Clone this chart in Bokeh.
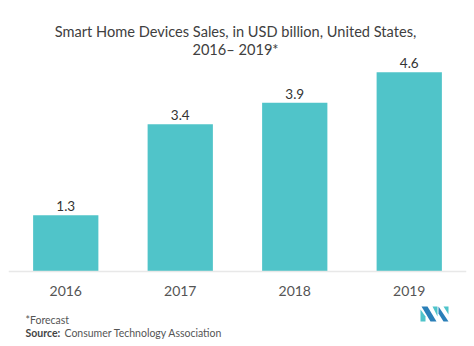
from bokeh.plotting import figure
from bokeh.models import ColumnDataSource, Label, Range1d, FactorRange, Span, PolyAnnotation
from bokeh.core.properties import value
from bokeh.embed import file_html
from bokeh.resources import INLINE

years = ["2016", "2017", "2018", "2019"]
sales = [1.3, 3.4, 3.9, 4.6]
value_labels = ["1.3", "3.4", "3.9", "4.6"]

source = ColumnDataSource(dict(x=years, top=sales, lab=value_labels, zero=[0] * len(years)))

W, H = 474, 346
p = figure(x_range=FactorRange(factors=years, range_padding=0), y_range=Range1d(-1.732, 6.259),
           width=W, height=H, output_backend="svg", toolbar_location=None,
           x_axis_location=None, y_axis_location=None,
           min_border_left=8, min_border_right=8, min_border_top=0, min_border_bottom=0)
p.outline_line_color = None
p.background_fill_color = "white"
p.border_fill_color = "white"
p.xgrid.grid_line_color = None
p.ygrid.grid_line_color = None

p.vbar(x="x", top="top", width=0.57, source=source, fill_color="#50C4C9", line_color=None)
p.text(x="x", y="top", text="lab", source=source, text_align="center", text_baseline="bottom",
       y_offset=-4, text_font=value("Lato"), text_font_size="13.5px", text_color="#333333")

# baseline and category labels
p.add_layout(Span(location=0, dimension="width", line_color="#e8e8e8", line_width=1.5))
p.text(x="x", y="zero", text="x", source=source, text_align="center", text_baseline="middle",
       y_offset=19, text_font=value("Lato"), text_font_size="14px", text_color="#555555")

def lab(txt, x, y, size, color, align="left", style="normal"):
    # x, y in canvas pixels from top-left
    p.add_layout(Label(x=x - 8, y=H - y, x_units="screen", y_units="screen", text=txt,
                       text_align=align, text_baseline="middle", text_font="Lato",
                       text_font_size=size, text_color=color, text_font_style=style))

lab("Smart Home Devices Sales, in USD billion, United States,", 235, 31, "14.6px", "#404040", "center")
lab("2016\u2013 2019*", 235, 49, "14.6px", "#404040", "center")
lab("*Forecast", 25, 319, "10.5px", "#555555")
lab("Source:", 25, 332, "10.5px", "#444444", style="bold")
lab("Consumer Technology Association", 64, 332, "10.5px", "#555555")

# logo
def poly(pts, color):
    p.add_layout(PolyAnnotation(xs=[x - 8 for x, _ in pts], ys=[H - y for _, y in pts],
                                xs_units="screen", ys_units="screen",
                                fill_color=color, fill_alpha=1, line_color=None))

poly([(420, 309), (425, 316), (425, 321), (420, 321)], "#4fc4ca")
poly([(421, 306), (427, 306), (436, 321), (430, 321)], "#2a7fb8")
poly([(432, 306), (437, 306), (437, 316)], "#4fc4ca")
poly([(438, 306), (448, 321), (443, 321), (438, 313)], "#2a7fb8")
poly([(443, 306), (448, 306), (448, 314)], "#4fc4ca")

open("out.html", "w").write(file_html(p, INLINE))
